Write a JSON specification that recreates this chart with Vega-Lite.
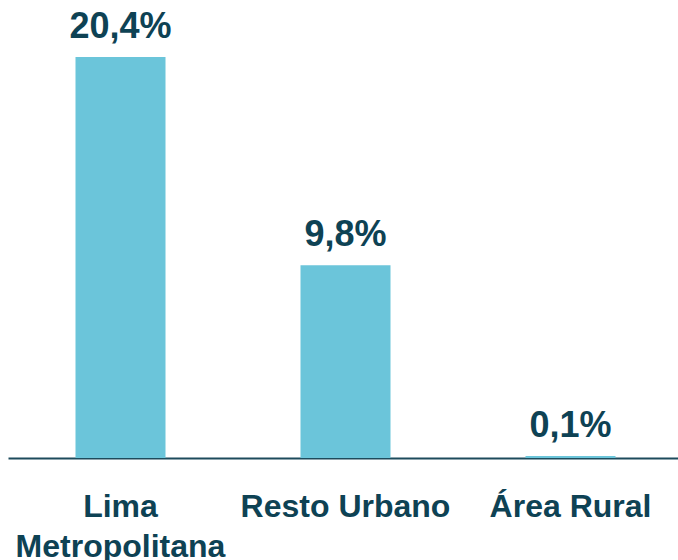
{
  "$schema": "https://vega.github.io/schema/vega-lite/v6.json",
  "autosize": "none",
  "width": 675,
  "height": 458,
  "padding": {"left": 8, "top": 0, "right": 0, "bottom": 102},
  "background": "white",
  "config": {"view": {"stroke": null}},
  "data": {
    "values": [
      {"area": "Lima Metropolitana", "value": 20.4, "label": "20,4%"},
      {"area": "Resto Urbano", "value": 9.8, "label": "9,8%"},
      {"area": "Área Rural", "value": 0.1, "label": "0,1%"}
    ]
  },
  "encoding": {
    "x": {
      "field": "area",
      "type": "nominal",
      "sort": null,
      "scale": {"paddingInner": 0.6, "paddingOuter": 0.3},
      "axis": {
        "title": null,
        "labelAngle": 0,
        "ticks": false,
        "grid": false,
        "domainColor": "#1d4b5c",
        "domainWidth": 2,
        "labelFont": "Liberation Sans",
        "labelFontSize": 32,
        "labelFontWeight": "bold",
        "labelColor": "#0e4254",
        "labelBaseline": "alphabetic",
        "labelPadding": 58,
        "labelLineHeight": 40,
        "labelLimit": 400,
        "labelExpr": "datum.label == 'Lima Metropolitana' ? ['Lima', 'Metropolitana'] : datum.label"
      }
    },
    "y": {
      "field": "value",
      "type": "quantitative",
      "scale": {"domain": [0, 23.3], "nice": false},
      "axis": null
    }
  },
  "layer": [
    {"mark": {"type": "bar", "color": "#6bc5da"}},
    {
      "mark": {
        "type": "text",
        "baseline": "alphabetic",
        "dy": -19,
        "font": "Liberation Sans",
        "fontSize": 36,
        "fontWeight": "bold",
        "color": "#0e4254"
      },
      "encoding": {"text": {"field": "label"}}
    }
  ]
}
